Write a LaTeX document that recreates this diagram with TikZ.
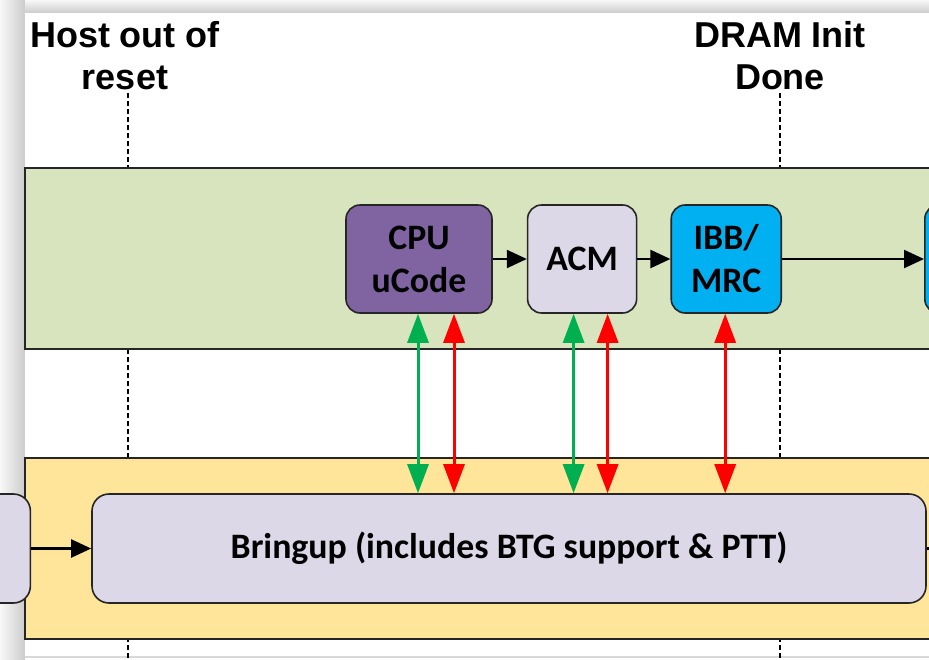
\documentclass[tikz,border=0pt]{standalone}
\usepackage{fontspec}
\setmainfont{Carlito}
\newfontfamily\arialfont{Liberation Sans}
\usetikzlibrary{arrows.meta,positioning,shapes}
\definecolor{lanegreen}{RGB}{215,228,189}
\definecolor{laneyellow}{RGB}{255,229,153}
\definecolor{ucodepurple}{RGB}{128,100,162}
\definecolor{acmgray}{RGB}{221,216,232}
\definecolor{mrcblue}{RGB}{0,176,240}
\definecolor{syncgreen}{RGB}{0,176,80}
\definecolor{syncred}{RGB}{255,0,0}
\tikzstyle{lane}=[
	rectangle,
	draw=black!85,
	line width=1.5,
	minimum width=920,
	minimum height=181]
\tikzstyle{stage}=[
	rectangle,
	rounded corners=14,
	draw=black!85,
	line width=1.6,
	inner sep=0,
	align=center,
	minimum height=108,
	font=\bfseries\fontsize{35.8}{43}\selectfont]
\tikzstyle{milestone}=[
	align=center,
	inner sep=0,
	font=\arialfont\bfseries\fontsize{36}{42}\selectfont]
\tikzstyle{milepost}=[
	line width=2.3,
	dash pattern=on 5 off 3]
\tikzstyle{flow}=[
	-{Triangle[length=20pt,width=18pt]},
	line width=2.3]
\tikzstyle{sync}=[
	{Triangle[length=29pt,width=21pt]}-{Triangle[length=29pt,width=21pt]},
	line width=3]

\begin{document}
\begin{tikzpicture}[x=1pt,y=-1pt]
	\useasboundingbox (0,0) rectangle (929,659);
	\clip (0,0) rectangle (929,659);
	% screenshot frame
	\fill[gray!30] (0,0) rectangle (929,659);
	\shade[left color=gray!6,right color=gray!40] (0,0) rectangle (25,659);
	\shade[top color=gray!6,bottom color=gray!40] (25,0) rectangle (929,13);
	\fill[white] (25,13) rectangle (929,656);
	\fill[white] (25,658) rectangle (929,659);
	% milestones
	\node[milestone]	(hostreset)	at (125,56)	{Host out of\\reset};
	\node[milestone]	(dramdone)	at (780,56)	{DRAM Init\\Done};
	\coordinate (hosttop)	at (128,93);
	\coordinate (hostend)	at (128,659);
	\coordinate (dramtop)	at (780,93);
	\coordinate (dramend)	at (780,659);
	\draw[milepost] (hosttop) -- (hostend);
	\draw[milepost] (dramtop) -- (dramend);
	% lanes
	\node[lane,fill=lanegreen]	(hostlane)	at (485,258.5)	{};
	\node[lane,fill=laneyellow]	(seclane)	at (485,548.5)	{};
	% host flow
	\node[stage,fill=ucodepurple,minimum width=146]	(ucode)	at (419,259)	{CPU\\uCode};
	\node[stage,fill=acmgray,minimum width=109]	(acm)	[right=34 of ucode]	{ACM};
	\node[stage,fill=mrcblue,minimum width=110]	(mrc)	[right=33 of acm]	{IBB/\\MRC};
	\node[stage,fill=mrcblue,minimum width=110]	(nextstage)	[right=142 of mrc]	{};
	\draw[flow] (ucode) -- (acm);
	\draw[flow] (acm) -- (mrc);
	\draw[flow] (mrc) -- (nextstage);
	% security engine flow
	\node[stage,fill=acmgray,minimum width=834,minimum height=109,rounded corners=17]	(bringup)	at (509,548.5)	{Bringup (includes BTG support \& PTT)};
	\node[stage,fill=acmgray,minimum width=112,minimum height=109,rounded corners=17]	(prevstage)	[left=60 of bringup]	{};
	\coordinate (bringupout) at (945,548.5);
	\draw[flow] (prevstage) -- (bringup);
	\draw[line width=2.3] (bringup) -- (bringupout);
	% handshakes
	\draw[sync,syncgreen]	([xshift=-1]ucode.south)	-- ([xshift=-1]ucode.south |- bringup.north);
	\draw[sync,syncred]	([xshift=35]ucode.south)	-- ([xshift=35]ucode.south |- bringup.north);
	\draw[sync,syncgreen]	([xshift=-8.5]acm.south)	-- ([xshift=-8.5]acm.south |- bringup.north);
	\draw[sync,syncred]	([xshift=25.5]acm.south)	-- ([xshift=25.5]acm.south |- bringup.north);
	\draw[sync,syncred]	([xshift=-1]mrc.south)	-- ([xshift=-1]mrc.south |- bringup.north);
\end{tikzpicture}
\end{document}
